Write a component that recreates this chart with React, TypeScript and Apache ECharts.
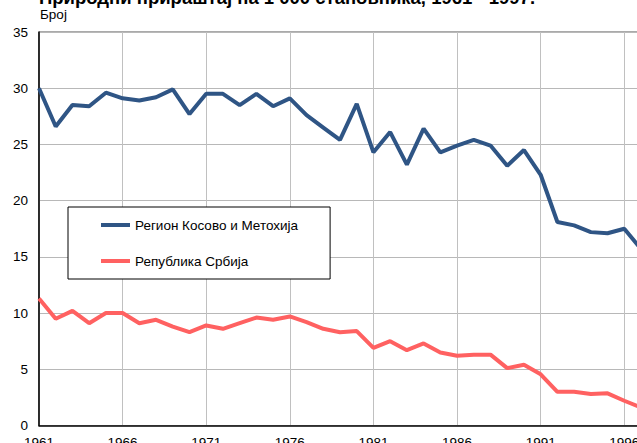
import React, { useEffect, useRef } from "react";
import * as echarts from "echarts";

const years = [
  "1961","1962","1963","1964","1965","1966","1967","1968","1969","1970",
  "1971","1972","1973","1974","1975","1976","1977","1978","1979","1980",
  "1981","1982","1983","1984","1985","1986","1987","1988","1989","1990",
  "1991","1992","1993","1994","1995","1996","1997",
];

const kosovo = [
  30.0, 26.6, 28.5, 28.4, 29.6, 29.1, 28.9, 29.2, 29.9, 27.7,
  29.5, 29.5, 28.5, 29.5, 28.4, 29.1, 27.6, 26.5, 25.4, 28.6,
  24.3, 26.1, 23.2, 26.4, 24.3, 24.9, 25.4, 24.9, 23.1, 24.5,
  22.3, 18.1, 17.8, 17.2, 17.1, 17.5, 15.7,
];

const serbia = [
  11.3, 9.5, 10.2, 9.1, 10.0, 10.0, 9.1, 9.4, 8.8, 8.3,
  8.9, 8.6, 9.1, 9.6, 9.4, 9.7, 9.2, 8.6, 8.3, 8.4,
  6.9, 7.5, 6.7, 7.3, 6.5, 6.2, 6.3, 6.3, 5.1, 5.4,
  4.55, 3.0, 3.0, 2.8, 2.86, 2.2, 1.6,
];

const seriesNames = ["Регион Косово и Метохија", "Република Србија"];
const titleText = "Природни прираштај на 1 000 становника, 1961 - 1997.";
const yAxisName = "Број";

const FONT = '"Liberation Sans", Arial, sans-serif';

export default function App() {
  const ref = useRef<HTMLDivElement>(null);
  useEffect(() => {
    if (!ref.current) return;
    const chart = echarts.init(ref.current, undefined, { renderer: "svg" });
    chart.setOption({
      animation: false,
      backgroundColor: "#ffffff",
      textStyle: { fontFamily: FONT },
      graphic: [
        {
          type: "text",
          x: 39,
          y: -3,
          style: {
            text: titleText,
            font: `bold 18.5px ${FONT}`,
            fill: "#000",
            verticalAlign: "middle",
          },
        },
        {
          type: "text",
          x: 40,
          y: 14.8,
          style: {
            text: yAxisName,
            font: `13.5px ${FONT}`,
            fill: "#000",
            verticalAlign: "middle",
          },
        },
      ],
      grid: {
        left: 39,
        right: -4,
        top: 32,
        bottom: 17.5,
        show: true,
        borderColor: "#555",
        borderWidth: 1,
        containLabel: false,
        outerBoundsMode: "none",
      },
      legend: {
        orient: "vertical",
        left: 68,
        top: 207,
        padding: [11, 32, 11, 31],
        itemWidth: 29,
        itemHeight: 14,
        itemGap: 22,
        backgroundColor: "#fff",
        borderColor: "#000",
        borderWidth: 1,
        itemStyle: { opacity: 0 },
        lineStyle: { width: 4 },
        textStyle: { fontSize: 13.5, color: "#000", fontFamily: FONT },
        data: seriesNames,
      },
      xAxis: {
        type: "category",
        data: years,
        boundaryGap: false,
        axisLine: { show: true, lineStyle: { color: "#000", width: 1.5 } },
        axisTick: { show: false },
        axisLabel: {
          interval: 4,
          color: "#000",
          fontSize: 13.5,
          margin: 10,
          fontFamily: FONT,
        },
        splitLine: {
          show: true,
          interval: 4,
          lineStyle: { color: "#c0c0c0", width: 1 },
        },
      },
      yAxis: {
        type: "value",
        min: 0,
        max: 35,
        interval: 5,
        axisLine: { show: true, lineStyle: { color: "#000", width: 1.5 } },
        axisTick: { show: false },
        axisLabel: {
          color: "#000",
          fontSize: 13.5,
          margin: 11,
          fontFamily: FONT,
        },
        splitLine: { show: true, lineStyle: { color: "#b8b8b8", width: 1 } },
      },
      series: [
        {
          name: seriesNames[0],
          type: "line",
          data: kosovo,
          symbol: "none",
          lineStyle: { color: "#2f5585", width: 4 },
          itemStyle: { color: "#2f5585" },
        },
        {
          name: seriesNames[1],
          type: "line",
          data: serbia,
          symbol: "none",
          lineStyle: { color: "#ff6161", width: 4 },
          itemStyle: { color: "#ff6161" },
        },
      ],
    });
    return () => chart.dispose();
  }, []);
  return <div ref={ref} style={{ width: 637, height: 443, position: "fixed", left: 0, top: 0 }} />;
}
